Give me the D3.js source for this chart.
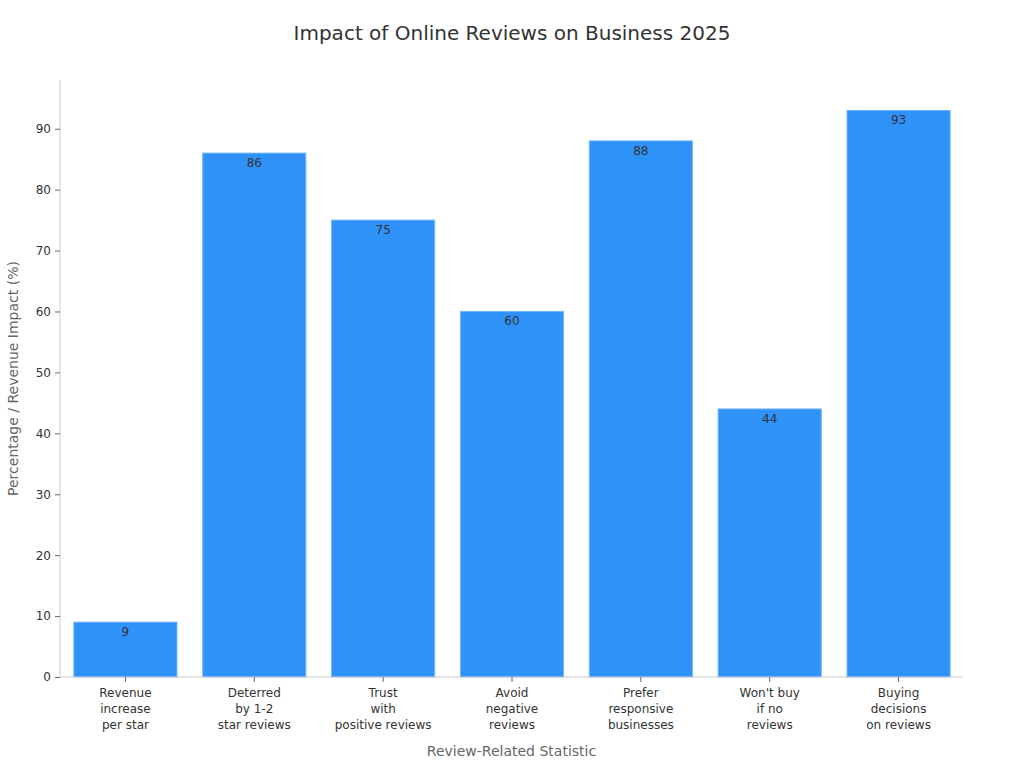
<!DOCTYPE html>
<html><head><meta charset="utf-8">
<script src="https://cdn.jsdelivr.net/npm/d3@7"></script>
<style>body{margin:0;background:#fff;font-family:"DejaVu Sans",sans-serif;}</style>
</head><body><svg id="c" width="1024" height="768"></svg>
<script>
const categories = [["Revenue","increase","per star"],["Deterred","by 1-2","star reviews"],["Trust","with","positive reviews"],["Avoid","negative","reviews"],["Prefer","responsive","businesses"],["Won't buy","if no","reviews"],["Buying","decisions","on reviews"]];
const values = [9, 86, 75, 60, 88, 44, 93];
const yTicks = [0,10,20,30,40,50,60,70,80,90];
const yMax = 98;
const title = "Impact of Online Reviews on Business 2025";
const xTitle = "Review-Related Statistic";
const yTitle = "Percentage / Revenue Impact (%)";

const svg = d3.select("#c");
const m = {l:60, r:61, t:80, b:91};
const W = 1024, H = 768;
const x = d3.scaleBand().domain(d3.range(values.length)).range([m.l+1, W-m.r]).paddingInner(0.2).paddingOuter(0.1);
const y = d3.scaleLinear().domain([0, yMax]).range([H-m.b, m.t]);

svg.append("text").attr("x",512).attr("y",40).attr("text-anchor","middle").attr("font-size",20).attr("fill","#333").text(title);

svg.selectAll("rect.bar").data(values).join("rect").attr("class","bar")
  .attr("x",(d,i)=>x(i)).attr("width",x.bandwidth())
  .attr("y",d=>y(d)).attr("height",d=>y(0)-y(d))
  .attr("fill","#2f92f8").attr("stroke","#6fb3fa").attr("stroke-width",1);

svg.selectAll("text.val").data(values).join("text").attr("class","val")
  .attr("x",(d,i)=>x(i)+x.bandwidth()/2).attr("y",d=>y(d)+14)
  .attr("text-anchor","middle").attr("font-size",12).attr("fill","#333").text(d=>d);

const ya = svg.append("g").attr("transform",`translate(${m.l},0)`)
  .call(d3.axisLeft(y).tickValues(yTicks).tickSize(5).tickPadding(4));
ya.select(".domain").attr("stroke","#ccc").attr("d",`M0,${m.t}V${y(0)}`);
ya.selectAll(".tick line").attr("stroke","#666");
ya.selectAll(".tick text").attr("font-size",12).attr("fill","#333").attr("font-family","DejaVu Sans");

const xa = svg.append("g").attr("transform",`translate(0,${y(0)})`)
  .call(d3.axisBottom(x).tickSize(5).tickFormat(""));
xa.select(".domain").attr("stroke","#ccc").attr("d",`M${m.l},0H${W-m.r}`);
xa.selectAll(".tick line").attr("stroke","#666");
xa.selectAll(".tick").each(function(d){
  const t = d3.select(this).append("text").attr("fill","#333").attr("font-size",12).attr("text-anchor","middle").attr("font-family","DejaVu Sans");
  categories[d].forEach((s,k)=>t.append("tspan").attr("x",0).attr("y",20+k*16).text(s));
});

svg.append("text").attr("x",(m.l+W-m.r)/2).attr("y",756).attr("text-anchor","middle").attr("font-size",14).attr("fill","#666").text(xTitle);
svg.append("text").attr("transform",`translate(18,${(m.t+y(0))/2}) rotate(-90)`).attr("text-anchor","middle").attr("font-size",14).attr("fill","#666").text(yTitle);
</script></body></html>
